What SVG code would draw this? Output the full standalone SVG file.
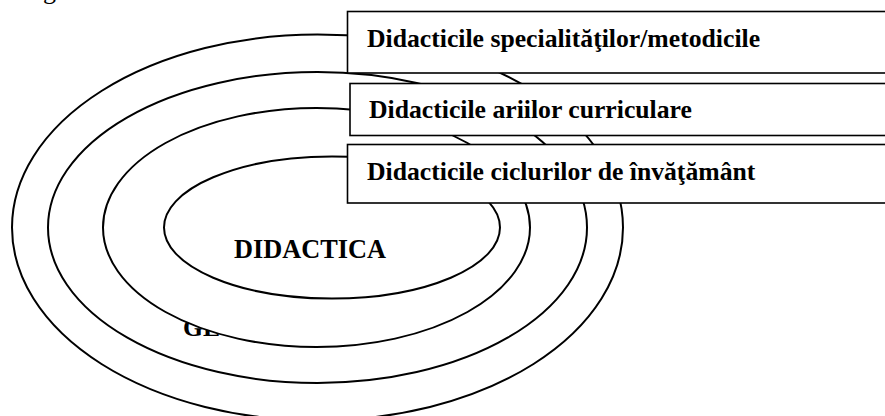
<svg xmlns="http://www.w3.org/2000/svg" width="885" height="416" viewBox="0 0 885 416">
<style>
.ring{fill:#fff;stroke:#000;stroke-width:2}
.box{fill:#fff;stroke:#000;stroke-width:1.6}
.t{font-family:"Liberation Serif","Times New Roman",serif;font-weight:bold;fill:#000;font-size:25.7px}
</style>
<rect width="885" height="416" fill="#fff"/>
<text x="43" y="-1" font-family="Liberation Serif, serif" font-size="26">g</text>
<g id="ring4"><ellipse class="ring" cx="317.5" cy="227.5" rx="305.5" ry="193"/></g>
<g id="ring3"><ellipse class="ring" cx="317.5" cy="227.5" rx="269.5" ry="155.5"/></g>
<g id="label-ge"><text x="183" y="336" class="t">GE</text></g>
<g id="ring2"><ellipse class="ring" cx="316.5" cy="227.5" rx="213.5" ry="119.5"/></g>
<g id="ring1"><ellipse class="ring" cx="332" cy="227.5" rx="168" ry="71"/>
<text x="234" y="258" class="t" style="font-size:26.3px">DIDACTICA</text></g>
<g id="connectors"></g>
<g id="box1"><rect class="box" x="347.5" y="11.5" width="545" height="61.5"/>
<text x="367" y="47" class="t">Didacticile specialităţilor/metodicile</text></g>
<g id="box2"><rect class="box" x="350" y="83.5" width="545" height="52"/>
<text x="369" y="118" class="t">Didacticile ariilor curriculare</text></g>
<g id="box3"><rect class="box" x="347.5" y="144.5" width="545" height="58.5"/>
<text x="367" y="180" class="t">Didacticile ciclurilor de învăţământ</text></g>
</svg>
